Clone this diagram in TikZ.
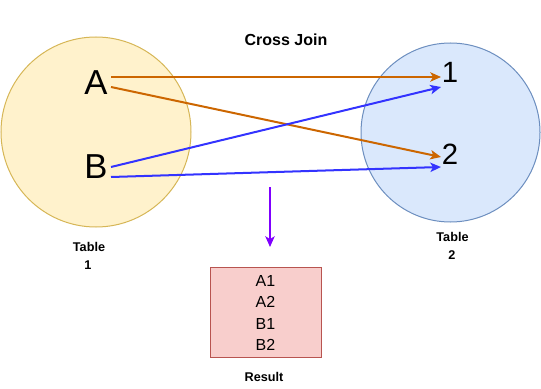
\documentclass[tikz,border=0pt]{standalone}
\usepackage{fontspec}
\setmainfont{Liberation Sans}
\usetikzlibrary{arrows.meta}
\definecolor{yfill}{HTML}{FFF2CC}
\definecolor{ydraw}{HTML}{D6B656}
\definecolor{bfill}{HTML}{DAE8FC}
\definecolor{bdraw}{HTML}{6C8EBF}
\definecolor{rfill}{HTML}{F8CECC}
\definecolor{rdraw}{HTML}{B85450}
\definecolor{orangeline}{HTML}{CC6600}
\definecolor{blueline}{HTML}{3333FF}
\definecolor{purpleline}{HTML}{7F00FF}
\tikzset{
  bigletter/.style={anchor=base, inner sep=0pt, font=\fontsize{26}{30}\selectfont},
  bigdigit/.style={anchor=base, inner sep=0pt, font=\fontsize{22}{26}\selectfont},
  rowtext/.style={anchor=base, inner sep=0pt, font=\fontsize{12}{14}\selectfont},
  caption/.style={anchor=base, inner sep=0pt, font=\bfseries\fontsize{9.5}{11}\selectfont},
  conn/.style={line width=1.5pt, -{Stealth[length=8pt,width=7pt,inset=2pt]}},
}
\begin{document}
\begin{tikzpicture}[x=0.75pt,y=-0.75pt]
\useasboundingbox (0,0) rectangle (541,388);
% tables
\node[circle, draw=ydraw, fill=yfill, line width=0.75pt, minimum size=142.5pt, inner sep=0pt] (t1) at (96,132) {};
\node[circle, draw=bdraw, fill=bfill, line width=0.75pt, minimum size=134.25pt, inner sep=0pt] (t2) at (450.5,132.5) {};
% title
\node[anchor=base, inner sep=0pt, font=\bfseries\fontsize{12}{14}\selectfont] (title) at (286,46) {Cross Join};
% elements
\node[bigletter] (A) at (96,95) {A};
\node[bigletter] (B) at (96,179) {B};
\node[bigdigit] (one) at (450,83) {1};
\node[bigdigit] (two) at (450,165) {2};
% connector ends
\coordinate (a1) at (111,77);
\coordinate (a2) at (111,87);
\coordinate (b1) at (111,167);
\coordinate (b2) at (111,177);
\coordinate (e11) at (441,77);
\coordinate (e12) at (441,157);
\coordinate (e21) at (441,87);
\coordinate (e22) at (441,167);
\draw[conn, orangeline] (a1) -- (e11);
\draw[conn, orangeline] (a2) -- (e12);
\draw[conn, blueline] (b1) -- (e21);
\draw[conn, blueline] (b2) -- (e22);
% captions
\node[caption] (cap1a) at (89,251) {Table};
\node[caption] (cap1b) at (88,269) {1};
\node[caption] (cap2a) at (452.5,241) {Table};
\node[caption] (cap2b) at (452,259) {2};
% result
\coordinate (p1) at (270,187);
\coordinate (p2) at (270,247);
\draw[purpleline, line width=1.2pt, -{Stealth[length=8pt,width=7pt,inset=2pt]}] (p1) -- (p2);
\node[rectangle, draw=rdraw, fill=rfill, line width=0.75pt, minimum width=83.25pt, minimum height=67.5pt, inner sep=0pt] (res) at (265.5,312) {};
\node[rowtext] (r1) at (265.5,286) {A1};
\node[rowtext] (r2) at (265.5,307) {A2};
\node[rowtext] (r3) at (265.5,329) {B1};
\node[rowtext] (r4) at (265.5,350) {B2};
\node[caption] (reslbl) at (264,381) {Result};
\end{tikzpicture}
\end{document}
